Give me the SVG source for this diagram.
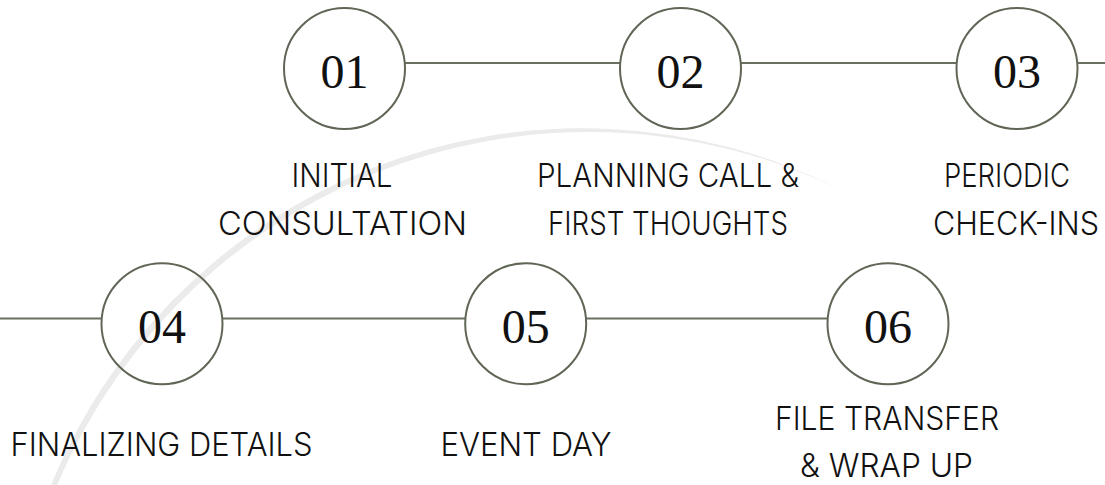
<svg xmlns="http://www.w3.org/2000/svg" width="1105" height="485" viewBox="0 0 1105 485">
<style>
.ring{fill:none;stroke:#5f6656;stroke-width:2}
.conn{stroke:#6a7060;stroke-width:2;fill:none}
.num{font-family:"Liberation Serif",serif;font-size:48px;fill:#111;text-anchor:middle}
.lbl{font-family:Inter,"Open Sans",sans-serif;font-weight:300;font-size:32px;fill:#111;text-anchor:middle}
</style>
<rect width="1105" height="485" fill="#fff"/>
<path id="swoosh" d="M43,506 A574,574 0 0 1 842.6,190.6 A577.1,577.1 0 0 0 46.8,511.7 Z" fill="#ebebeb"/>
<g id="connectors">
<line class="conn" x1="405" y1="63" x2="620" y2="63"/>
<line class="conn" x1="741" y1="63" x2="957" y2="63"/>
<line class="conn" x1="1077" y1="63" x2="1105" y2="63"/>
<line class="conn" x1="0" y1="318.5" x2="102" y2="318.5"/>
<line class="conn" x1="222.5" y1="318.5" x2="465.5" y2="318.5"/>
<line class="conn" x1="586" y1="318.5" x2="828" y2="318.5"/>
</g>
<g id="step01">
<circle class="ring" cx="344.5" cy="68.5" r="60.5"/>
<text class="num" x="344.5" y="87.5">01</text>
<text class="lbl" x="342" y="187" textLength="101" lengthAdjust="spacingAndGlyphs">INITIAL</text>
<text class="lbl" x="342.5" y="235" textLength="249" lengthAdjust="spacingAndGlyphs">CONSULTATION</text>
</g>
<g id="step02">
<circle class="ring" cx="680.5" cy="68.5" r="60.5"/>
<text class="num" x="680.5" y="87.5">02</text>
<text class="lbl" x="668" y="187" textLength="262" lengthAdjust="spacingAndGlyphs">PLANNING CALL &amp;</text>
<text class="lbl" x="668" y="235" textLength="240" lengthAdjust="spacingAndGlyphs">FIRST THOUGHTS</text>
</g>
<g id="step03">
<circle class="ring" cx="1017" cy="68.5" r="60.5"/>
<text class="num" x="1017" y="87.5">03</text>
<text class="lbl" x="1007" y="187" textLength="126" lengthAdjust="spacingAndGlyphs">PERIODIC</text>
<text class="lbl" x="1016" y="235" textLength="166" lengthAdjust="spacingAndGlyphs">CHECK-INS</text>
</g>
<g id="step04">
<circle class="ring" cx="162" cy="323.7" r="60.5"/>
<text class="num" x="162" y="342.5">04</text>
<text class="lbl" x="161.5" y="456" textLength="302" lengthAdjust="spacingAndGlyphs">FINALIZING DETAILS</text>
</g>
<g id="step05">
<circle class="ring" cx="525.7" cy="323.7" r="60.5"/>
<text class="num" x="525.7" y="342.5">05</text>
<text class="lbl" x="526" y="456" textLength="171" lengthAdjust="spacingAndGlyphs">EVENT DAY</text>
</g>
<g id="step06">
<circle class="ring" cx="888" cy="323.7" r="60.5"/>
<text class="num" x="888" y="342.5">06</text>
<text class="lbl" x="887" y="430" textLength="224" lengthAdjust="spacingAndGlyphs">FILE TRANSFER</text>
<text class="lbl" x="886.5" y="477" textLength="173" lengthAdjust="spacingAndGlyphs">&amp; WRAP UP</text>
</g>
</svg>
